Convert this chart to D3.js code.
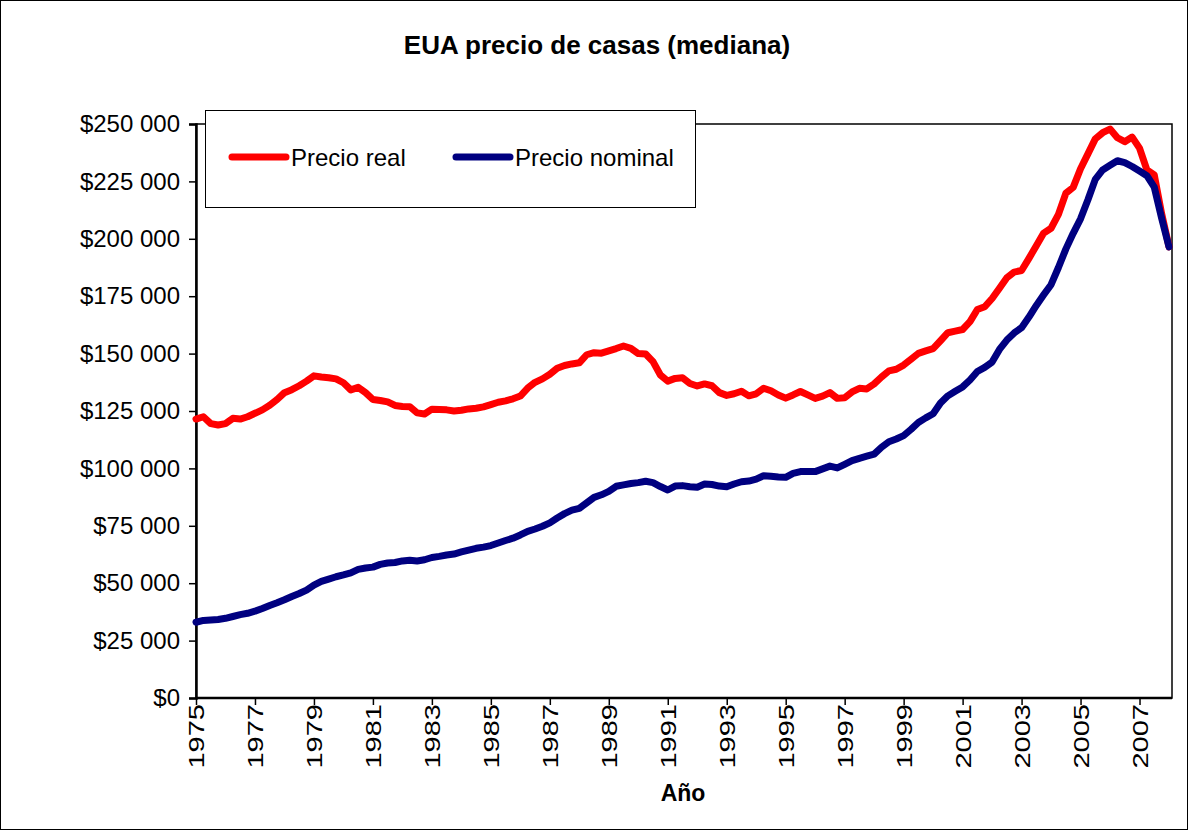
<!DOCTYPE html>
<html>
<head>
<meta charset="utf-8">
<script src="https://cdn.jsdelivr.net/npm/d3@7"></script>
<style>
  html, body { margin: 0; padding: 0; background: #fff; }
  svg { display: block; font-family: "Liberation Sans", Arial, sans-serif; }
</style>
</head>
<body>
<svg id="chart" width="1188" height="830"></svg>
<script>
// ---- data (thousands of dollars, quarterly 1975Q1 .. 2008Q1) ----
const startYear = 1975;
const seriesNames = ["Precio real", "Precio nominal"];
const realK = [
  121.5,122.5,119.5,118.9, 119.5,121.8,121.5,122.5, 124.0,125.5,127.5,130.0,
  133.0,134.3,136.0,138.0, 140.3,139.8,139.5,139.0, 137.3,134.2,135.3,133.0,
  130.0,129.6,129.0,127.4, 127.0,126.9,124.2,123.7, 125.8,125.7,125.5,125.0,
  125.3,125.9,126.2,126.8, 127.8,128.8,129.4,130.3, 131.5,135.0,137.5,139.0,
  141.0,143.6,144.8,145.5, 146.0,149.5,150.4,150.2, 151.2,152.2,153.3,152.3,
  150.0,149.8,146.5,140.7, 138.0,139.2,139.5,137.0, 135.9,136.8,136.0,133.0,
  131.8,132.5,133.6,131.6, 132.5,134.9,133.8,132.0, 130.6,132.0,133.5,132.0,
  130.5,131.5,133.0,130.5, 130.8,133.3,134.9,134.6, 136.8,139.8,142.5,143.2,
  145.0,147.5,150.1,151.2, 152.2,155.6,159.1,159.8, 160.5,163.9,169.2,170.4,
  174.0,178.5,183.0,185.5, 186.2,191.5,197.0,202.5, 204.6,210.6,219.8,222.4,
  230.5,237.0,243.5,246.2, 247.8,244.0,242.3,244.3, 239.5,230.0,227.8,211.0,
  196.5
];
const nominalK = [
  33.0,33.8,34.0,34.2, 34.7,35.5,36.3,36.9, 37.8,39.0,40.3,41.5,
  42.8,44.2,45.5,47.0, 49.2,50.8,51.8,52.8, 53.6,54.5,56.0,56.6,
  57.0,58.2,58.8,59.0, 59.7,60.0,59.7,60.2, 61.2,61.7,62.3,62.7,
  63.6,64.4,65.2,65.7, 66.4,67.5,68.6,69.6, 71.0,72.6,73.6,74.8,
  76.3,78.4,80.3,81.8, 82.6,85.0,87.4,88.5, 90.0,92.2,92.8,93.4,
  93.8,94.4,93.8,92.1, 90.6,92.3,92.5,92.0, 91.8,93.2,93.0,92.3,
  92.0,93.2,94.2,94.5, 95.3,96.8,96.6,96.3, 96.1,97.8,98.6,98.6,
  98.6,99.8,101.0,100.2, 101.8,103.4,104.4,105.3, 106.2,109.2,111.6,112.8,
  114.3,117.0,120.0,122.0, 123.8,128.5,131.6,133.6, 135.5,138.5,142.2,144.0,
  146.3,151.8,155.9,159.0, 161.3,165.9,171.0,175.6, 180.0,187.5,195.5,202.4,
  208.7,217.0,225.9,230.0, 232.0,234.0,233.2,231.5, 229.5,227.5,222.5,209.0,
  196.5
];
const xTickLabels = ["1975","1977","1979","1981","1983","1985","1987","1989","1991",
                     "1993","1995","1997","1999","2001","2003","2005","2007"];
const yTickValues = [0,25000,50000,75000,100000,125000,150000,175000,200000,225000,250000];
const colors = ["#FF0000", "#000080"];

// ---- layout ----
const svg = d3.select("#chart");
const L = 196, R = 1172, T = 124, B = 698;
const lastX = 1169;

svg.append("rect").attr("x",0.5).attr("y",0.5).attr("width",1187).attr("height",829)
  .attr("fill","#fff").attr("stroke","#000").attr("stroke-width",1);

const nQ = realK.length;
const x = d3.scaleLinear().domain([0, nQ - 1]).range([L, lastX]);
const y = d3.scaleLinear().domain([0, 250000]).range([B, T]);

const loc = d3.formatLocale({decimal: ",", thousands: " ", grouping: [3], currency: ["$", ""]});
const fmt = loc.format("$,");

// plot frame
svg.append("rect").attr("x", L).attr("y", T).attr("width", R - L).attr("height", B - T)
  .attr("fill", "none").attr("stroke", "#000").attr("stroke-width", 1.5);

// y axis
const yAxis = svg.append("g").attr("transform", `translate(${L},0)`)
  .call(d3.axisLeft(y).tickValues(yTickValues).tickFormat(fmt).tickSize(7).tickPadding(9));
yAxis.select(".domain").attr("stroke-width", 2.5);
yAxis.selectAll(".tick line").attr("stroke-width", 1.5);
yAxis.selectAll("text").attr("font-size", 24).attr("fill", "#000")
  .attr("font-family", "'Liberation Sans', Arial, sans-serif");

// x axis
const xTickIdx = xTickLabels.map(s => (+s - startYear) * 4);
const xAxis = svg.append("g").attr("transform", `translate(0,${B})`)
  .call(d3.axisBottom(x).tickValues(xTickIdx).tickFormat((d, i) => xTickLabels[i]).tickSize(7).tickSizeOuter(0));
xAxis.select(".domain").attr("d", `M${L},0H${R}`).attr("stroke-width", 2.5);
xAxis.selectAll(".tick line").attr("stroke-width", 1.5);
xAxis.selectAll(".tick text")
  .attr("font-size", 22).attr("fill", "#000")
  .attr("font-family", "'Liberation Sans', Arial, sans-serif")
  .attr("text-anchor", "end")
  .attr("dy", "0.35em")
  .attr("transform", "translate(0,6) rotate(-90) scale(1.32,1)")
  .attr("x", 0).attr("y", 0);

// lines
const line = d3.line().x((d, i) => x(i)).y(d => y(d * 1000)).curve(d3.curveLinear);
[realK, nominalK].forEach((s, k) => {
  svg.append("path").datum(s).attr("d", line)
    .attr("fill", "none").attr("stroke", colors[k]).attr("stroke-width", 7)
    .attr("stroke-linejoin", "round").attr("stroke-linecap", "round");
});

// legend
const lg = svg.append("g");
lg.append("rect").attr("x", 205.5).attr("y", 110.5).attr("width", 490).attr("height", 97)
  .attr("fill", "#fff").attr("stroke", "#000").attr("stroke-width", 1);
const legX = [232, 456];
seriesNames.forEach((n, k) => {
  lg.append("line").attr("x1", legX[k]).attr("x2", legX[k] + 54).attr("y1", 157).attr("y2", 157)
    .attr("stroke", colors[k]).attr("stroke-width", 7).attr("stroke-linecap", "round");
  lg.append("text").attr("x", legX[k] + 59).attr("y", 166).attr("font-size", 24).attr("fill", "#000")
    .text(n);
});

// title
svg.append("text").attr("x", 597).attr("y", 54).attr("text-anchor", "middle")
  .attr("font-size", 26).attr("font-weight", "bold").text("EUA precio de casas (mediana)");

// x axis title
svg.append("text").attr("x", 683).attr("y", 801).attr("text-anchor", "middle")
  .attr("font-size", 23).attr("font-weight", "bold").text("Año");
</script>
</body>
</html>
